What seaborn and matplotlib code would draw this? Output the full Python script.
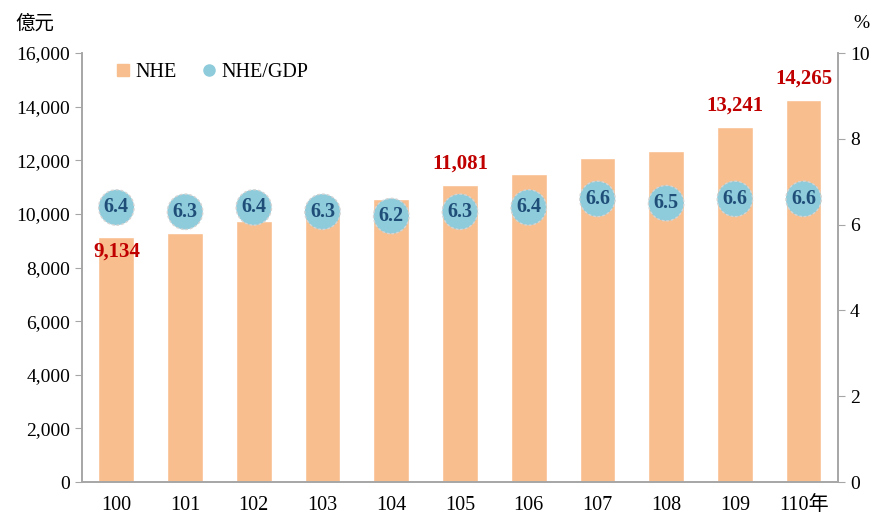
import pandas as pd
import seaborn as sns
import matplotlib.pyplot as plt
from matplotlib.lines import Line2D

# 資料
years = ['100', '101', '102', '103', '104', '105', '106', '107', '108', '109', '110年']
nhe = [9134, 9290, 9730, 10170, 10560, 11081, 11490, 12080, 12350, 13241, 14265]
ratio = [6.4, 6.3, 6.4, 6.3, 6.2, 6.3, 6.4, 6.6, 6.5, 6.6, 6.6]
labeled = {'100': 9134, '105': 11081, '109': 13241, '110年': 14265}

df = pd.DataFrame({'year': years, 'nhe': nhe, 'ratio': ratio})

sns.set_style('white')
fam = ['Liberation Serif', 'Noto Sans CJK TC']
plt.rcParams['font.family'] = fam
plt.rcParams['text.color'] = 'black'
plt.rcParams['xtick.labelcolor'] = 'black'
plt.rcParams['ytick.labelcolor'] = 'black'

bar_c = '#F8BE8D'
dot_c = '#8ECBDB'
red = '#C00000'
navy = '#1F4E79'
grey = '#A6A6A6'

fig = plt.figure(figsize=(8.78, 5.15), dpi=100)
ax = fig.add_axes([0.0934, 0.064, 0.861, 0.833])

sns.barplot(data=df, x='year', y='nhe', color=bar_c, width=0.52,
            saturation=1, ax=ax)
ax.set_ylim(0, 16000)
ax.set_xlim(-0.5, len(years) - 0.5)
ax.set_yticks(range(0, 16001, 2000))
ax.set_yticklabels([f'{v:,}' for v in range(0, 16001, 2000)], fontsize=14)
ax.set_xlabel('')
ax.set_ylabel('')
ax.tick_params(axis='x', length=0, labelsize=14.5, pad=10)
ax.set_xticks([i - 0.5 for i in range(len(years) + 1)], minor=True)
ax.tick_params(axis='x', which='minor', length=5, color=grey, direction='out')
ax.tick_params(axis='y', length=5, color=grey, direction='out', left=True)

ax2 = ax.twinx()
sns.scatterplot(data=df, x='year', y='ratio', s=650, color=dot_c,
                edgecolor='#d4d4d4', linewidth=1.0, linestyle=(0, (2, 1.5)),
                ax=ax2, zorder=3, legend=False)
ax2.set_ylim(0, 10)
ax2.set_yticks(range(0, 11, 2))
ax2.tick_params(axis='y', labelsize=14, length=5, color=grey, right=True)
ax2.set_ylabel('')

for i, r in enumerate(ratio):
    ax2.text(i, r, f'{r:.1f}', ha='center', va='center', fontsize=14.5,
             fontweight='bold', color=navy, zorder=4)

for i, y in enumerate(years):
    if y in labeled:
        v = labeled[y]
        if y == '100':
            ax.text(i, v - 150, f'{v:,}', ha='center', va='top', fontsize=15,
                    fontweight='bold', color=red)
        else:
            ax.text(i, v + 420, f'{v:,}', ha='center', va='bottom', fontsize=15,
                    fontweight='bold', color=red)

for a in (ax, ax2):
    a.spines['top'].set_visible(False)
    for s in ('left', 'right', 'bottom'):
        a.spines[s].set_color(grey)
        a.spines[s].set_linewidth(1.2)

handles = [
    Line2D([], [], marker='s', linestyle='', markersize=8, color=bar_c, label='NHE'),
    Line2D([], [], marker='o', linestyle='', markersize=8, color=dot_c, label='NHE/GDP'),
]
ax.legend(handles=handles, loc='upper left', bbox_to_anchor=(0.02, 1.02), ncol=2,
          frameon=False, fontsize=14.5, handlelength=0.8, handletextpad=0.2,
          columnspacing=1.2)

fig.text(0.017, 0.955, '億元', fontsize=14, family=fam, va='center')
fig.text(0.972, 0.955, '%', fontsize=14, family=fam, va='center')

fig.savefig('out.png', dpi=100)
